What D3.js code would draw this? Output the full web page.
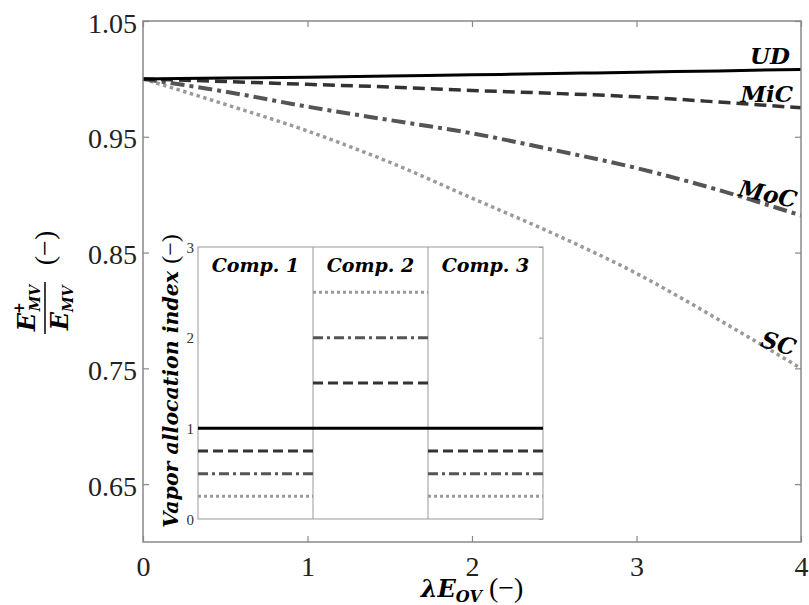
<!DOCTYPE html>
<html>
<head>
<meta charset="utf-8">
<script src="https://cdn.jsdelivr.net/npm/d3@7"></script>
<style>
  html, body { margin: 0; padding: 0; background: #fff; }
  svg { display: block; }
</style>
</head>
<body>
<svg id="chart" width="809" height="605"></svg>
<script>
// ---------------- data ----------------
const lambdaVals = [0, 0.5, 1, 1.5, 2, 2.5, 3, 3.5, 4];
const seriesNames = ["UD", "MiC", "MoC", "SC"];
const valsUD  = [1.0, 1.0007, 1.0015, 1.0025, 1.0035, 1.0046, 1.0058, 1.0069, 1.0082];
const valsMiC = [1.0, 0.9977, 0.9953, 0.9930, 0.9900, 0.9875, 0.9845, 0.9800, 0.9750];
const valsMoC = [1.0, 0.9890, 0.9760, 0.9644, 0.9530, 0.9385, 0.9230, 0.9040, 0.8820];
const valsSC  = [1.0, 0.9780, 0.9550, 0.9280, 0.8970, 0.8660, 0.8320, 0.7920, 0.7500];
const xTicks = [0, 1, 2, 3, 4];
const yTicks = [0.65, 0.75, 0.85, 0.95, 1.05];

const comps = ["Comp. 1", "Comp. 2", "Comp. 3"];
const insetUD  = [1, 1, 1];
const insetMiC = [0.75, 1.5, 0.75];
const insetMoC = [0.5, 2.0, 0.5];
const insetSC  = [0.25, 2.5, 0.25];
const insetTicks = [0, 1, 2, 3];

// ---------------- styles ----------------
const styles = {
  UD:  {color: "#000000", width: 3,   dash: null,          idash: null,        iwidth: 3},
  MiC: {color: "#333333", width: 3.5, dash: "12,6",        idash: "10,5",      iwidth: 3},
  MoC: {color: "#555555", width: 4,   dash: "14,5,4,5",    idash: "10,4,3,4",  iwidth: 3},
  SC:  {color: "#9a9a9a", width: 3.5, dash: "3.5,3.5",     idash: "3,3",       iwidth: 3}
};
const mainVals = {UD: valsUD, MiC: valsMiC, MoC: valsMoC, SC: valsSC};
const insetVals = {UD: insetUD, MiC: insetMiC, MoC: insetMoC, SC: insetSC};

const svg = d3.select("#chart");
const L = 143, R = 801, T = 21, B = 542;
const x = d3.scaleLinear().domain([0, 4]).range([L, R]);
const y = d3.scaleLinear().domain([0.6, 1.05]).range([B, T]);

const mathFont = "'DejaVu Serif', serif";
const numFont = "'Liberation Serif', 'Times New Roman', serif";

// ---------------- curves ----------------
const line = d3.line().x((d, i) => x(lambdaVals[i])).y(d => y(d)).curve(d3.curveMonotoneX);
const drawOrder = ["SC", "MoC", "MiC", "UD"];
drawOrder.forEach(k => {
  const s = styles[k];
  svg.append("path")
    .attr("d", line(mainVals[k]))
    .attr("fill", "none")
    .attr("stroke", s.color)
    .attr("stroke-width", s.width)
    .attr("stroke-dasharray", s.dash)
    .attr("stroke-linecap", "butt");
});

// ---------------- axes frame ----------------
const frameColor = "#888";
const tickLen = 6;
const gAx = svg.append("g");
gAx.append("rect").attr("x", L).attr("y", T).attr("width", R - L).attr("height", B - T)
  .attr("fill", "none").attr("stroke", frameColor).attr("stroke-width", 1.5);

const axL = d3.axisLeft(y).tickValues(yTicks).tickSize(-tickLen).tickFormat(d3.format(".2f"));
const gL = svg.append("g").attr("transform", `translate(${L},0)`).call(axL);
const axR = d3.axisRight(y).tickValues(yTicks).tickSize(-tickLen).tickFormat("");
const gR = svg.append("g").attr("transform", `translate(${R},0)`).call(axR);
const axB = d3.axisBottom(x).tickValues(xTicks).tickSize(-tickLen).tickFormat(d3.format("d"));
const gB = svg.append("g").attr("transform", `translate(0,${B})`).call(axB);
const axT = d3.axisTop(x).tickValues(xTicks).tickSize(-tickLen).tickFormat("");
const gT = svg.append("g").attr("transform", `translate(0,${T})`).call(axT);
[gL, gR, gB, gT].forEach(g => {
  g.select(".domain").remove();
  g.selectAll(".tick line").attr("stroke", frameColor).attr("stroke-width", 1.2);
});
gL.selectAll(".tick text").attr("x", -6).attr("dy", "0.40em")
  .attr("font-family", numFont).attr("font-size", 28).attr("fill", "#222");
gB.selectAll(".tick text").attr("y", 14).attr("dy", "0.71em")
  .attr("font-family", numFont).attr("font-size", 28).attr("fill", "#222");

// ---------------- curve labels ----------------
const lab = [
  {t: "UD",  x: 790, y: 64,  rot: 0},
  {t: "MiC", x: 793, y: 102, rot: 0},
  {t: "MoC", x: 795, y: 208, rot: 12},
  {t: "SC",  x: 793, y: 356, rot: 16}
];
lab.forEach(d => {
  svg.append("text")
    .attr("transform", `translate(${d.x},${d.y}) rotate(${d.rot})`)
    .attr("text-anchor", "end")
    .attr("font-family", mathFont).attr("font-weight", "bold").attr("font-style", "italic")
    .attr("font-size", 23).attr("fill", "#000")
    .text(d.t);
});

// ---------------- inset ----------------
const iL = 198, iR = 543, iT = 247, iB = 519;
const xi = d3.scaleBand().domain(comps).range([iL, iR]).padding(0);
const yi = d3.scaleLinear().domain([0, 3]).range([iB, iT]);
const gi = svg.append("g");
gi.append("rect").attr("x", iL).attr("y", iT).attr("width", iR - iL).attr("height", iB - iT)
  .attr("fill", "#fff").attr("stroke", "#999").attr("stroke-width", 1);
comps.slice(1).forEach(c => {
  gi.append("line").attr("x1", xi(c)).attr("x2", xi(c)).attr("y1", iT).attr("y2", iB)
    .attr("stroke", "#999").attr("stroke-width", 1);
});
const ayi = d3.axisLeft(yi).tickValues(insetTicks).tickSize(0).tickFormat(d3.format("d"));
const gyi = gi.append("g").attr("transform", `translate(${iL},0)`).call(ayi);
gyi.select(".domain").remove();
gyi.selectAll(".tick text").attr("x", -4).attr("dy", "0.35em")
  .attr("font-family", numFont).attr("font-size", 15).attr("fill", "#333");
const ayiR = d3.axisRight(yi).tickValues(insetTicks).tickSize(-4).tickFormat("");
const gyiR = gi.append("g").attr("transform", `translate(${iR},0)`).call(ayiR);
gyiR.select(".domain").remove();
gyiR.selectAll(".tick line").attr("stroke", "#999");

["SC", "MoC", "MiC", "UD"].forEach(k => {
  const s = styles[k];
  gi.selectAll(null).data(insetVals[k]).enter().append("line")
    .attr("x1", (d, i) => xi(comps[i]))
    .attr("x2", (d, i) => xi(comps[i]) + xi.bandwidth())
    .attr("y1", d => yi(d)).attr("y2", d => yi(d))
    .attr("stroke", s.color).attr("stroke-width", s.iwidth)
    .attr("stroke-dasharray", s.idash);
});
comps.forEach(c => {
  gi.append("text")
    .attr("x", xi(c) + xi.bandwidth() / 2).attr("y", 272)
    .attr("text-anchor", "middle")
    .attr("font-family", mathFont).attr("font-weight", "bold").attr("font-style", "italic")
    .attr("font-size", 19).attr("fill", "#000")
    .text(c);
});
const tyi = svg.append("text")
  .attr("transform", `translate(178,${(iT + iB) / 2 - 2}) rotate(-90)`)
  .attr("text-anchor", "middle").attr("fill", "#000");
tyi.append("tspan").attr("font-family", mathFont).attr("font-weight", "bold").attr("font-style", "italic")
  .attr("font-size", 20.5).text("Vapor allocation index ");
tyi.append("tspan").attr("font-family", numFont).attr("font-size", 24).text("(\u2212)");

// ---------------- main axis labels ----------------
const tx = svg.append("text").attr("x", 472).attr("y", 597).attr("text-anchor", "middle").attr("fill", "#000");
tx.append("tspan").attr("font-family", mathFont).attr("font-weight", "bold").attr("font-style", "italic")
  .attr("font-size", 24).text("\u03bbE");
tx.append("tspan").attr("font-family", mathFont).attr("font-weight", "bold").attr("font-style", "italic")
  .attr("font-size", 16).attr("dy", 5).text("OV");
tx.append("tspan").attr("font-family", numFont).attr("font-size", 28).attr("dy", -5).text(" (\u2212)");

const gy = svg.append("g").attr("transform", "translate(45,308) rotate(-90)");
const bi = s => s.attr("font-family", mathFont).attr("font-weight", "bold").attr("font-style", "italic").attr("fill", "#000");
const num = bi(gy.append("text").attr("x", 0).attr("y", -10).attr("text-anchor", "middle"));
num.append("tspan").attr("font-size", 24).text("E");
num.append("tspan").attr("font-size", 14).attr("dy", -11).attr("dx", -1).text("+");
num.append("tspan").attr("font-size", 14).attr("dy", 16).attr("dx", -9).text("MV");
gy.append("line").attr("x1", -26).attr("x2", 26).attr("y1", 0).attr("y2", 0)
  .attr("stroke", "#000").attr("stroke-width", 1.5);
const den = bi(gy.append("text").attr("x", 0).attr("y", 23).attr("text-anchor", "middle"));
den.append("tspan").attr("font-size", 24).text("E");
den.append("tspan").attr("font-size", 14).attr("dy", 5).text("MV");
gy.append("text").attr("x", 60).attr("y", 9).attr("text-anchor", "middle")
  .attr("font-family", numFont).attr("font-size", 28).attr("fill", "#000").text("(\u2212)");
</script>
</body>
</html>
